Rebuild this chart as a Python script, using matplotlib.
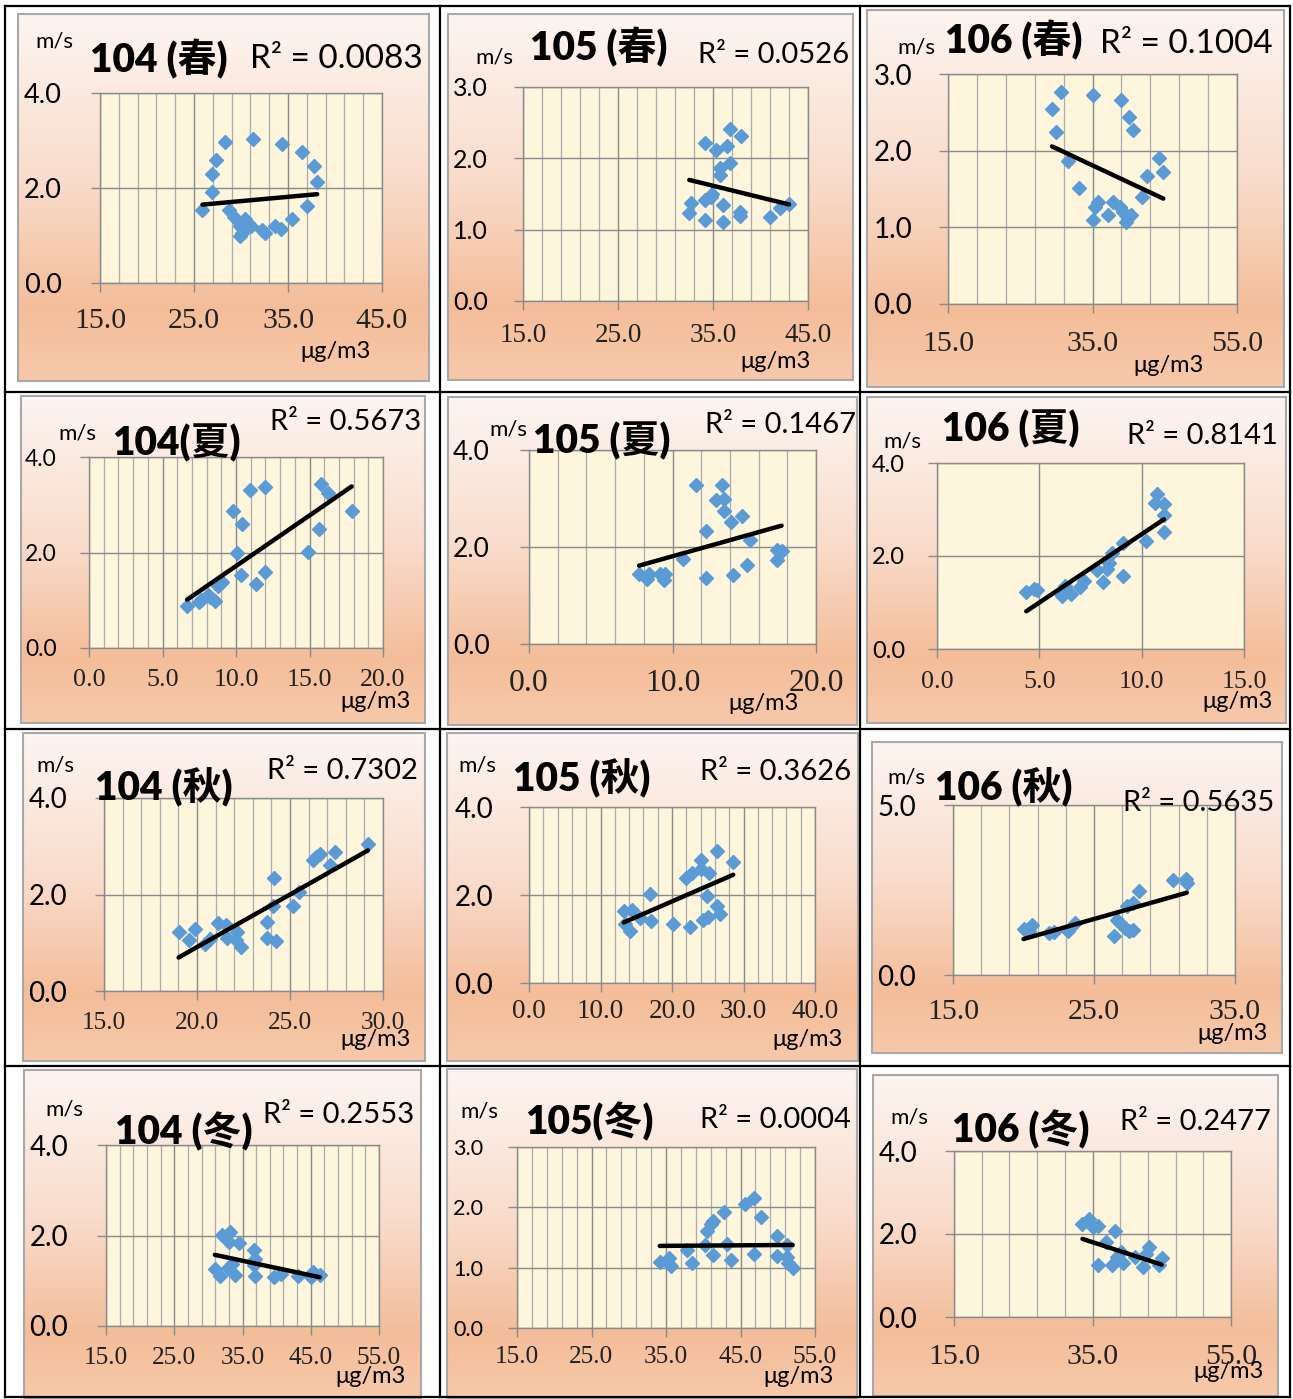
import numpy as np
import matplotlib.pyplot as plt
from matplotlib.colors import LinearSegmentedColormap
from matplotlib.patches import Rectangle
from matplotlib.ticker import FixedLocator, FormatStrFormatter

W, H = 1293, 1399

# ---- data: PM2.5 (ug/m3) vs wind speed (m/s), by year and season ----
titles = ['104 (春)', '105 (春)', '106 (春)',
          '104(夏)', '105 (夏)', '106 (夏)',
          '104 (秋)', '105 (秋)', '106 (秋)',
          '104 (冬)', '105(冬)', '106 (冬)']
r2_values = [0.0083, 0.0526, 0.1004, 0.5673, 0.1467, 0.8141,
             0.7302, 0.3626, 0.5635, 0.2553, 0.0004, 0.2477]

x_104_spring = [25.9, 26.9, 26.9, 27.3, 28.3, 28.7, 29.3, 30.4, 29.9, 30.2, 29.9, 30.1,
                31.1, 31.3, 32.2, 32.5, 33.6, 34.3, 34.4, 35.4, 36.5, 37.0, 37.8, 38.1]
y_104_spring = [1.53, 1.91, 2.30, 2.60, 2.96, 1.53, 1.39, 1.35, 1.19, 1.14, 1.00, 1.05,
                1.21, 3.03, 1.12, 1.05, 1.21, 1.14, 2.93, 1.35, 2.75, 1.63, 2.46, 2.13]
x_105_spring = [32.5, 32.7, 34.2, 34.2, 34.2, 34.8, 34.9, 35.3, 35.7, 35.7, 36.1, 36.1,
                36.5, 36.8, 36.8, 37.8, 37.8, 37.9, 41.0, 42.1, 43.0]
y_105_spring = [1.23, 1.37, 2.22, 1.42, 1.13, 1.46, 1.50, 2.12, 1.86, 1.76, 1.34, 1.11,
                2.17, 2.41, 1.93, 1.25, 1.19, 2.32, 1.18, 1.30, 1.36]
x_106_spring = [29.4, 29.9, 30.6, 31.6, 33.1, 35.0, 35.0, 35.4, 35.8, 37.2, 37.8, 38.8,
                38.9, 39.2, 39.6, 39.7, 40.3, 40.0, 40.6, 41.9, 42.5, 44.2, 44.8]
y_106_spring = [2.54, 2.25, 2.76, 1.87, 1.51, 2.73, 1.09, 1.26, 1.33, 1.16, 1.33, 1.26,
                2.66, 1.20, 1.07, 1.16, 1.16, 2.44, 2.27, 1.40, 1.67, 1.90, 1.72]

x_104_summer = [6.67, 7.48, 7.64, 8.10, 8.25, 8.55, 8.78, 9.07, 9.80, 10.07, 10.36, 10.43,
                10.98, 11.38, 11.97, 12.0, 14.9, 15.62, 15.76, 16.26, 17.87]
y_104_summer = [0.89, 0.96, 1.01, 1.12, 1.07, 0.98, 1.29, 1.38, 2.87, 1.98, 1.52, 2.60,
                3.30, 1.35, 3.37, 1.59, 2.02, 2.50, 3.44, 3.25, 2.87]
x_105_summer = [7.67, 8.19, 8.37, 9.12, 9.40, 9.47, 10.70, 11.67, 12.33, 12.33, 13.02, 13.42,
                13.58, 13.58, 14.05, 14.19, 14.81, 15.21, 15.40, 17.26, 17.30, 17.49, 17.60]
y_105_summer = [1.44, 1.33, 1.44, 1.44, 1.32, 1.44, 1.75, 3.28, 2.32, 1.37, 2.96, 3.28,
                3.00, 2.75, 2.52, 1.42, 2.64, 1.62, 2.14, 1.94, 1.73, 1.90, 1.91]
x_106_summer = [4.36, 4.72, 4.88, 6.07, 6.13, 6.26, 6.54, 6.99, 7.16, 7.81, 8.13, 8.33,
                8.38, 8.54, 9.11, 9.11, 10.20, 10.67, 10.74, 11.09, 11.09, 11.09]
y_106_summer = [1.22, 1.29, 1.27, 1.21, 1.13, 1.36, 1.18, 1.34, 1.46, 1.70, 1.45, 1.72,
                1.86, 2.07, 1.56, 2.29, 2.32, 3.13, 3.33, 3.11, 2.88, 2.52]

x_104_autumn = [19.01, 19.55, 19.87, 20.41, 20.68, 21.13, 21.58, 21.63, 22.15, 22.11, 22.38, 23.78,
                23.78, 24.09, 24.12, 24.27, 25.16, 25.48, 26.24, 26.38, 26.63, 27.13, 27.40, 29.19]
y_104_autumn = [1.23, 1.06, 1.29, 0.98, 1.07, 1.41, 1.36, 1.09, 1.23, 1.05, 0.92, 1.43,
                1.10, 1.76, 2.34, 1.03, 1.76, 2.06, 2.72, 2.77, 2.84, 2.62, 2.88, 3.05]
x_105_autumn = [13.26, 13.40, 14.19, 14.47, 15.50, 16.90, 17.04, 20.07, 21.94, 22.50, 22.73, 24.04,
                24.04, 24.28, 24.83, 25.06, 25.20, 26.32, 26.32, 26.70, 28.56]
y_105_autumn = [1.63, 1.33, 1.18, 1.65, 1.48, 2.03, 1.40, 1.33, 2.38, 1.27, 2.50, 2.79,
                2.58, 1.44, 1.97, 1.50, 2.50, 3.00, 1.75, 1.56, 2.76]
x_106_autumn = [20.0, 20.4, 20.6, 21.78, 22.18, 23.19, 23.67, 26.43, 26.62, 26.85, 27.21, 27.33,
                27.51, 27.80, 27.75, 28.22, 30.63, 31.53, 31.58]
y_106_autumn = [1.35, 1.28, 1.48, 1.23, 1.26, 1.28, 1.53, 1.16, 1.62, 1.53, 1.38, 2.02,
                1.28, 1.33, 2.12, 2.48, 2.78, 2.81, 2.71]

x_104_winter = [30.95, 31.68, 32.02, 33.15, 33.05, 32.90, 33.39, 33.88, 34.51, 36.71, 36.80, 36.71,
                36.80, 39.59, 40.60, 43.15, 45.10, 45.34, 46.32]
y_104_winter = [1.26, 1.11, 2.02, 2.08, 1.86, 1.29, 1.38, 1.13, 1.83, 1.68, 1.48, 1.35,
                1.11, 1.09, 1.16, 1.11, 1.09, 1.19, 1.13]
x_105_winter = [34.17, 35.43, 35.65, 37.84, 38.52, 40.22, 40.44, 40.98, 41.25, 41.25, 42.77, 43.13,
                43.67, 45.59, 46.81, 46.86, 47.71, 49.94, 49.85, 51.19, 51.19, 51.41, 52.0]
y_105_winter = [1.10, 1.16, 1.02, 1.30, 1.07, 1.38, 1.61, 1.73, 1.77, 1.21, 1.93, 1.40,
                1.13, 2.06, 2.16, 1.23, 1.84, 1.53, 1.19, 1.38, 1.18, 1.07, 1.00]
x_106_winter = [33.55, 34.52, 35.10, 35.82, 35.82, 37.02, 37.75, 38.23, 38.47, 39.05, 39.43, 41.12,
                42.23, 42.71, 43.19, 44.64, 44.98]
y_106_winter = [2.24, 2.36, 2.17, 2.19, 1.25, 1.81, 1.25, 2.07, 1.45, 1.57, 1.29, 1.45,
                1.21, 1.53, 1.69, 1.25, 1.41]

# linear trend lines (slope, intercept)
trend_slope = [0.018, -0.0327, -0.0442, 0.2117, 0.083, 0.294,
               0.218, 0.0708, 0.1177, -0.0322, 0.0009, -0.0542]
trend_intercept = [1.184, 2.76, 3.355, -0.40, 0.979, -0.471,
                   -3.45, 0.438, -1.296, 2.569, 1.33, 3.70]

# axis scales
x_limits = [(15, 45), (15, 45), (15, 55), (0, 20), (0, 20), (0, 15),
            (15, 30), (0, 40), (15, 35), (15, 55), (15, 55), (15, 55)]
x_major = [10, 10, 20, 5, 10, 5, 5, 10, 10, 10, 10, 20]
x_minor = [2, 2, 4, 1, 2, None, 1, 2, 2, 2, 2, 4]
y_max = [4, 3, 3, 4, 4, 4, 4, 4, 5, 4, 3, 4]
y_major = [2, 1, 1, 2, 2, 2, 2, 2, 5, 2, 1, 2]

xs = [x_104_spring, x_105_spring, x_106_spring, x_104_summer, x_105_summer, x_106_summer,
      x_104_autumn, x_105_autumn, x_106_autumn, x_104_winter, x_105_winter, x_106_winter]
ys = [y_104_spring, y_105_spring, y_106_spring, y_104_summer, y_105_summer, y_106_summer,
      y_104_autumn, y_105_autumn, y_106_autumn, y_104_winter, y_105_winter, y_106_winter]

# ---- layout in pixels (x0, y0, x1, y1), origin top-left ----
chart_boxes = [(18, 14, 429, 381), (448, 14, 853, 380), (867, 10, 1284, 387),
               (21, 396, 425, 723), (448, 397, 857, 725), (867, 397, 1286, 723),
               (23, 733, 425, 1061), (447, 733, 858, 1061), (872, 742, 1282, 1053),
               (24, 1070, 421, 1399), (447, 1069, 857, 1399), (873, 1075, 1278, 1396)]
plot_boxes = [(100, 93, 382, 283), (523, 87, 808, 301), (948, 74, 1237, 304),
              (89, 457, 383, 648), (529, 450, 816, 644), (937, 463, 1244, 649),
              (104, 798, 383, 991), (529, 807, 815, 983), (953, 805, 1235, 975),
              (106, 1145, 379, 1326), (517, 1147, 815, 1328), (954, 1151, 1231, 1317)]
# text anchors (left x, baseline y)
title_pos = [(90, 72), (530, 60), (945, 53), (112, 455), (533, 453), (942, 441),
             (95, 800), (513, 791), (935, 800), (115, 1144), (525, 1134), (952, 1142)]
ms_pos = [(35, 48), (475, 63), (897, 53), (58, 440), (489, 436), (883, 447),
          (36, 771), (458, 771), (887, 783), (45, 1115), (460, 1118), (890, 1123)]
r2_pos = [(250, 68), (698, 63), (1100, 53), (270, 430), (705, 433), (1127, 444),
          (267, 779), (700, 780), (1123, 811), (263, 1123), (700, 1128), (1120, 1130)]
unit_pos = [(300, 358), (740, 368), (1133, 372), (340, 708), (728, 710), (1202, 708),
            (340, 1046), (772, 1046), (1197, 1040), (335, 1383), (763, 1383), (1193, 1378)]
r2_size = [24, 21, 24, 21, 21, 21, 21, 21, 21, 21, 21, 21]
ytick_size = [19.5, 18, 20, 16.5, 19, 17, 20, 20, 20, 20, 15.5, 20]
xtick_size = [21.5, 19.5, 21.5, 18.7, 22.8, 18.7, 18.3, 19.5, 21.5, 18.3, 18.3, 21.5]
ytick_gap = [38, 35, 36, 32, 39, 32, 37, 36, 37, 38, 34, 37]
xtick_pad = [16, 13, 18, 12, 16, 13, 12, 7, 15, 12, 9, 18]

SANS = ['Lato', 'Noto Sans CJK TC', 'DejaVu Sans']
SERIF = 'Liberation Serif'
GRID_MAJOR = '#8a8a8a'
GRID_MINOR = '#ababab'

peach = LinearSegmentedColormap.from_list(
    'peach', [(0.0, '#fdf5f1'), (0.45, '#f9dccb'), (0.8, '#f4bd9a'), (1.0, '#f7c9aa')])
gradient = np.linspace(0, 1, 256).reshape(-1, 1)


def fig_box(b):
    x0, y0, x1, y1 = b
    return [x0 / W, 1 - y1 / H, (x1 - x0) / W, (y1 - y0) / H]


def steps(lo, hi, step):
    return np.arange(lo, hi + step * 0.01, step)


fig = plt.figure(figsize=(W / 100, H / 100), dpi=100)
fig.patch.set_facecolor('white')

for i in range(12):
    # chart background with gradient fill
    bg = fig.add_axes(fig_box(chart_boxes[i]), zorder=0)
    bg.imshow(gradient, aspect='auto', cmap=peach, extent=[0, 1, 0, 1], origin='upper')
    bg.set_xlim(0, 1)
    bg.set_ylim(0, 1)
    bg.set_axis_off()
    bg.add_patch(Rectangle((0, 0), 1, 1, transform=bg.transAxes, fill=False,
                           ec='#a8a8a8', lw=1.5, clip_on=False))

    lo, hi = x_limits[i]
    ax = fig.add_axes(fig_box(plot_boxes[i]), zorder=2)
    ax.set_facecolor('#fdf5dc')
    ax.set_xlim(lo, hi)
    ax.set_ylim(0, y_max[i])
    ax.xaxis.set_major_locator(FixedLocator(steps(lo, hi, x_major[i])))
    if x_minor[i]:
        ax.xaxis.set_minor_locator(FixedLocator(steps(lo, hi, x_minor[i])))
        ax.grid(which='minor', axis='x', color=GRID_MINOR, lw=0.9)
    ax.yaxis.set_major_locator(FixedLocator(steps(0, y_max[i], y_major[i])))
    ax.grid(which='major', color=GRID_MAJOR, lw=1.0)
    ax.set_axisbelow(True)
    ax.xaxis.set_major_formatter(FormatStrFormatter('%.1f'))
    ax.yaxis.set_major_formatter(FormatStrFormatter('%.1f'))
    for s in ax.spines.values():
        s.set_color(GRID_MAJOR)
        s.set_linewidth(1.0)
    ax.tick_params(which='major', direction='out', length=6.5, width=1, color=GRID_MAJOR)
    ax.tick_params(which='minor', length=0)
    ax.tick_params(axis='y', pad=(ytick_gap[i] - 9) * 0.72, labelsize=ytick_size[i],
                   labelfontfamily='Lato')
    ax.tick_params(axis='x', pad=xtick_pad[i] * 0.72, labelsize=xtick_size[i],
                   labelfontfamily=SERIF, labelcolor='#222222')

    ax.plot(xs[i], ys[i], 'D', color='#5b9bd5', ms=6.8, mec='#5b9bd5', zorder=3, clip_on=False)
    xx = np.array([min(xs[i]), max(xs[i])])
    ax.plot(xx, trend_slope[i] * xx + trend_intercept[i], color='black', lw=3.2,
            solid_capstyle='round', zorder=4)

# overlay for labels and the table frame
ov = fig.add_axes([0, 0, 1, 1], zorder=5)
ov.set_xlim(0, W)
ov.set_ylim(H, 0)
ov.set_axis_off()
ov.patch.set_alpha(0)

for i in range(12):
    ov.text(*title_pos[i], titles[i], family=SANS, weight='heavy', fontsize=28,
            ha='left', va='baseline', color='black')
    ov.text(*ms_pos[i], 'm/s', family=SANS, fontsize=16, ha='left', va='baseline')
    ov.text(*r2_pos[i], f'R² = {r2_values[i]:.4f}', family=SANS, fontsize=r2_size[i],
            ha='left', va='baseline')
    ov.text(*unit_pos[i], 'μg/m3', family=SANS, fontsize=17, ha='left', va='baseline')

col_lines = [5, 440, 859.5, 1290]
row_lines = [6, 392, 729, 1066, 1397]
for x in col_lines:
    ov.plot([x, x], [row_lines[0], row_lines[-1]], color='black', lw=1.6, solid_capstyle='projecting')
for y in row_lines:
    ov.plot([col_lines[0], col_lines[-1]], [y, y], color='black', lw=1.6, solid_capstyle='projecting')

fig.savefig('out.png', dpi=100)
